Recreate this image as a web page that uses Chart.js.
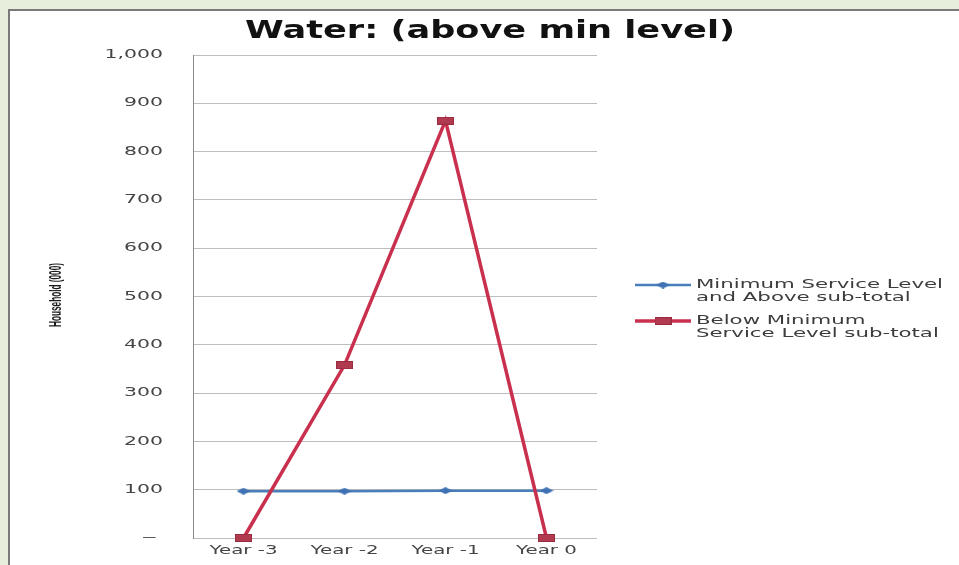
<!DOCTYPE html>
<html>
<head>
<meta charset="utf-8">
<title>Water: (above min level)</title>
<script src="https://cdn.jsdelivr.net/npm/chart.js@4.4.1/dist/chart.umd.min.js"></script>
<style>
  html, body { margin: 0; padding: 0; background: #e8eedc; overflow: hidden; }
  #panel {
    position: absolute; left: 8px; top: 9px; width: 960px; height: 560px;
    background: #fff; border-left: 2px solid #7a7a7a; border-top: 2px solid #7a7a7a;
  }
  #waterChart { position: absolute; left: 0; top: 0; }
</style>
</head>
<body>
<div id="panel"></div>
<canvas id="waterChart" width="959" height="565"></canvas>
<script>
// values
var years = ['Year -3', 'Year -2', 'Year -1', 'Year 0'];
var aboveMin = [97, 97, 98, 98];
var belowMin = [0, 358, 864, 0];
var yTicks = [0, 100, 200, 300, 400, 500, 600, 700, 800, 900, 1000];
var chartTitle = 'Water: (above min level)';
var yTitle = 'Household (000)';
var aboveLabel = ['Minimum Service Level', 'and Above sub-total'];
var belowLabel = ['Below Minimum', 'Service Level sub-total'];

var blue = '#4a7ebb';
var red = '#c8304e';

// stretched marker shapes (the picture is wide)
function makeMarker(w, h, color, diamond) {
    var c = document.createElement('canvas');
    c.width = w; c.height = h;
    var g = c.getContext('2d');
    g.fillStyle = color;
    if (diamond) {
        g.beginPath();
        g.moveTo(w / 2, 0); g.lineTo(w, h / 2); g.lineTo(w / 2, h); g.lineTo(0, h / 2);
        g.closePath(); g.fill();
    } else {
        g.fillRect(0, 0, w, h);
        g.strokeStyle = '#9a2c40';
        g.lineWidth = 1;
        g.strokeRect(0.5, 0.5, w - 1, h - 1);
    }
    return c;
}
var blueMark = makeMarker(14, 7, '#3f72b4', true);
var redMark = makeMarker(17, 8, '#b23a50', false);

function wideText(ctx, text, x, y, align, sx) {
    ctx.save();
    ctx.translate(x, y);
    ctx.scale(sx, 1);
    ctx.textAlign = align;
    ctx.fillText(text, 0, 0);
    ctx.restore();
}

var textPlugin = {
    id: 'textPlugin',
    afterDraw: function(chart) {
        var ctx = chart.ctx;
        var ys = chart.scales.y, xs = chart.scales.x;
        ctx.save();
        ctx.textBaseline = 'middle';

        // title
        ctx.fillStyle = '#111';
        ctx.font = 'bold 25px "DejaVu Sans"';
        var tw = ctx.measureText(chartTitle).width;
        wideText(ctx, chartTitle, 490, 31, 'center', 490 / tw);

        // y tick labels
        ctx.fillStyle = '#454545';
        ctx.font = '12px "DejaVu Sans"';
        yTicks.forEach(function(v) {
            var py = ys.getPixelForValue(v);
            if (v === 0) {
                wideText(ctx, '–', 157, py, 'right', 2.6);
            } else {
                wideText(ctx, v.toLocaleString('en-US'), 163, py, 'right', 1.7);
            }
        });

        // x tick labels
        years.forEach(function(lbl, i) {
            wideText(ctx, lbl, xs.getPixelForValue(i), 551, 'center', 1.65);
        });

        // y axis title
        ctx.fillStyle = '#1a1a1a';
        ctx.font = 'bold 16px "Liberation Sans"';
        var yw = ctx.measureText(yTitle).width;
        ctx.save();
        ctx.translate(57, 295);
        ctx.rotate(-Math.PI / 2);
        ctx.scale(64 / yw, 1);
        ctx.textAlign = 'center';
        ctx.fillText(yTitle, 0, 0);
        ctx.restore();

        // legend
        var items = [
            { ds: chart.data.datasets[0], y: 285, lines: aboveLabel, mark: blueMark },
            { ds: chart.data.datasets[1], y: 321, lines: belowLabel, mark: redMark }
        ];
        ctx.font = '12px "DejaVu Sans"';
        var lsx = 247 / ctx.measureText(aboveLabel[0]).width;
        items.forEach(function(it) {
            ctx.strokeStyle = it.ds.borderColor;
            ctx.lineWidth = it.ds.borderWidth;
            ctx.beginPath();
            ctx.moveTo(635, it.y);
            ctx.lineTo(691, it.y);
            ctx.stroke();
            ctx.drawImage(it.mark, 663 - it.mark.width / 2, it.y - it.mark.height / 2);
            ctx.fillStyle = '#3c3c3c';
            it.lines.forEach(function(line, k) {
                wideText(ctx, line, 696, it.y + k * 12.5, 'left', lsx);
            });
        });
        ctx.restore();
    }
};

var ctx = document.getElementById('waterChart').getContext('2d');
var waterChart = new Chart(ctx, {
    type: 'line',
    data: {
        labels: years,
        datasets: [
            {
                label: aboveLabel.join(' '),
                data: aboveMin,
                borderColor: blue,
                borderWidth: 2.5,
                pointStyle: blueMark,
                pointRadius: 7,
                order: 1,
                clip: false
            },
            {
                label: belowLabel.join(' '),
                data: belowMin,
                borderColor: red,
                borderWidth: 3.5,
                pointStyle: redMark,
                pointRadius: 8,
                order: 0,
                clip: false
            }
        ]
    },
    options: {
        responsive: false,
        animation: false,
        layout: {
            padding: { left: 193, right: 362, top: 55, bottom: 27 }
        },
        scales: {
            x: {
                offset: true,
                grid: { display: false },
                border: { display: false },
                ticks: { display: false },
                afterFit: function(s) { s.height = 0; }
            },
            y: {
                min: 0,
                max: 1000,
                ticks: { display: false, stepSize: 100 },
                grid: { color: '#bdbdbd', lineWidth: 1, drawTicks: false },
                border: { color: '#8a8a8a', width: 1 },
                afterFit: function(s) { s.width = 0; }
            }
        },
        plugins: {
            legend: { display: false },
            title: { display: false },
            tooltip: { enabled: false }
        }
    },
    plugins: [textPlugin]
});
</script>
</body>
</html>
